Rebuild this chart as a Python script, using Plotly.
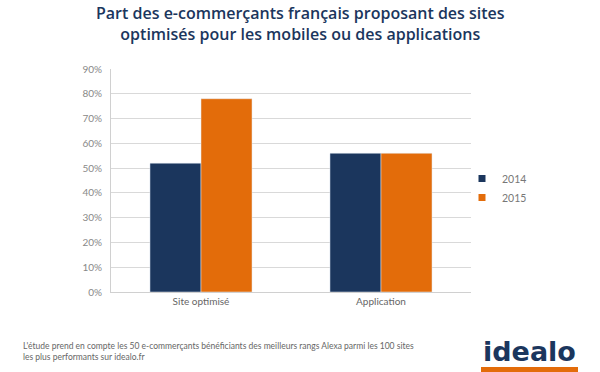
import plotly.graph_objects as go

categories = ["Site optimisé", "Application"]
values_2014 = [0.52, 0.56]
values_2015 = [0.78, 0.56]
series_names = ["2014", "2015"]
title_lines = ["Part des e-commerçants français proposant des sites",
               "optimisés pour les mobiles ou des applications"]

NAVY = "#1b365d"
ORANGE = "#e36c0a"
FONT = "Lato, 'Open Sans', sans-serif"

W, H = 600, 372
L, R, T, B = 111, 471, 69, 292


def px(x):
    return (x - L) / (R - L)


def py(y):
    return (B - y) / (B - T)


fig = go.Figure()
for name, vals, col in [(series_names[0], values_2014, NAVY), (series_names[1], values_2015, ORANGE)]:
    fig.add_trace(go.Bar(x=categories, y=vals, name=name, marker_color=col,
                         showlegend=False, legendgroup=name))
    fig.add_trace(go.Scatter(x=[None], y=[None], mode="markers", name=name, legendgroup=name,
                             marker=dict(symbol="square", size=7, color=col)))

fig.update_layout(
    width=W, height=H,
    margin=dict(l=L, r=W - R, t=T, b=H - B),
    paper_bgcolor="white", plot_bgcolor="white",
    barmode="group", bargap=0.433, bargroupgap=0,
    font=dict(family=FONT, color="#777"),
    showlegend=True,
    legend=dict(x=px(462), y=py(188), xanchor="left", yanchor="middle",
                font=dict(size=10.5, color="#777"), itemwidth=30,
                tracegroupgap=0, bgcolor="rgba(0,0,0,0)"),
)

fig.update_yaxes(range=[0, 0.9], dtick=0.1, tickformat=".0%", showgrid=True,
                 gridcolor="#d9d9d9", gridwidth=1, showline=True, linecolor="#d0d0d0",
                 tickfont=dict(size=10, color="#888"), ticks="", zeroline=False,
                 ticklabelstandoff=6)
fig.update_xaxes(showline=True, linecolor="#d0d0d0", linewidth=1,
                 tickfont=dict(size=10, color="#666"), ticks="", ticklabelstandoff=0)

fig.add_annotation(text="<br>".join(title_lines), xref="paper", yref="paper", x=px(300), y=py(23),
                   xanchor="center", yanchor="middle", showarrow=False, align="center",
                   font=dict(size=16, color=NAVY, family="'Open Sans', sans-serif", weight=600))

fig.add_annotation(text="L'étude prend en compte les 50 e-commerçants bénéficiants des meilleurs rangs Alexa parmi les 100 sites<br>les plus performants sur idealo.fr",
                   xref="paper", yref="paper", x=px(21), y=py(351), xanchor="left", yanchor="middle",
                   align="left", showarrow=False, font=dict(size=8.5, color="#666"))
fig.add_annotation(text="<b>idealo</b>", xref="paper", yref="paper", x=px(529), y=py(351),
                   xanchor="center", yanchor="middle", showarrow=False,
                   font=dict(size=27, color=NAVY, family="'DejaVu Sans', sans-serif"))
fig.add_shape(type="rect", xref="paper", yref="paper", x0=px(481), x1=px(578),
              y0=py(367), y1=py(372), fillcolor=ORANGE, line=dict(width=0))

fig.write_html("out.html", config={"displayModeBar": False},
               post_script="document.body.style.margin='0';")
